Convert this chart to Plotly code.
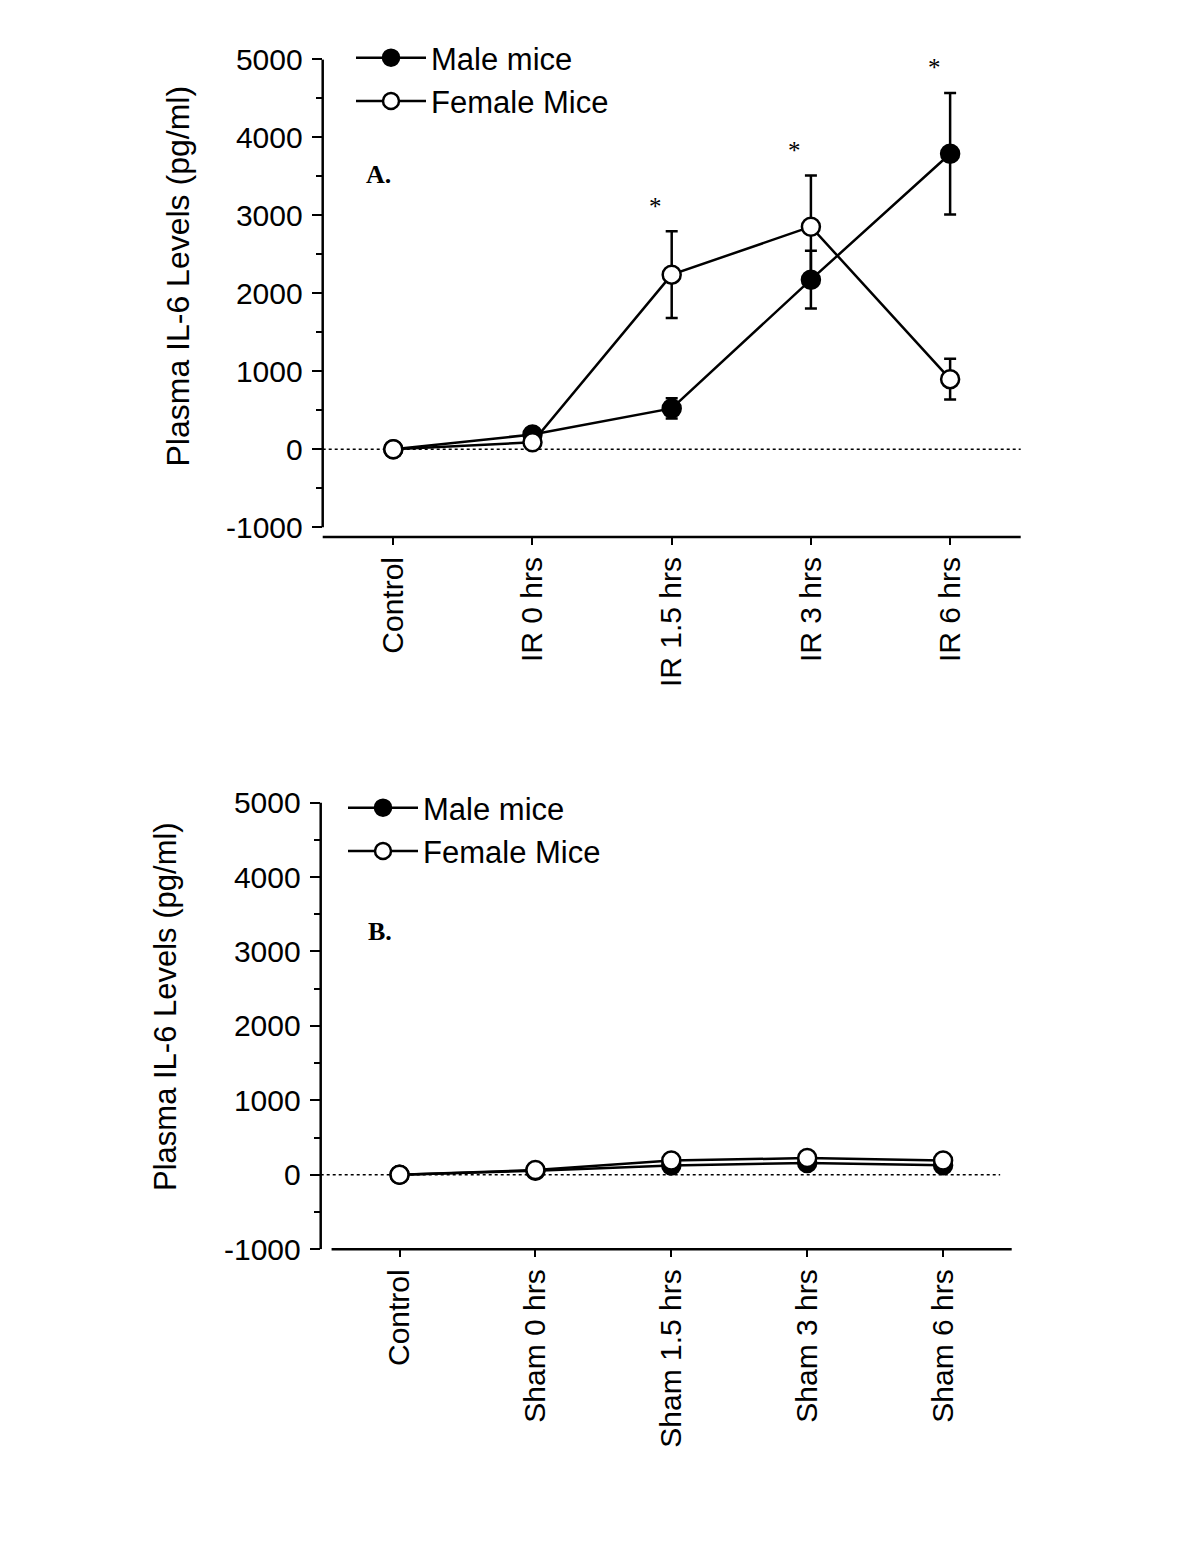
import plotly.graph_objects as go

# ---------------- data ----------------
cats_a = ["Control", "IR 0 hrs", "IR 1.5 hrs", "IR 3 hrs", "IR 6 hrs"]
cats_b = ["Control", "Sham 0 hrs", "Sham 1.5 hrs", "Sham 3 hrs", "Sham 6 hrs"]

male_a = [0, 190, 525, 2175, 3790]
male_a_err = [0, 0, 130, 370, 780]
female_a = [0, 90, 2240, 2855, 900]
female_a_err = [0, 0, 555, 655, 260]

male_b = [0, 55, 125, 160, 130]
female_b = [0, 65, 193, 225, 193]

sig_a = ["IR 1.5 hrs", "IR 3 hrs", "IR 6 hrs"]   # categories marked with *
yticks = [-1000, 0, 1000, 2000, 3000, 4000, 5000]
yticktext = ["-1000", "0", "1000", "2000", "3000", "4000", "5000"]
ytitle = "Plasma IL-6 Levels (pg/ml)"

# ---------------- geometry (pixels of the 1200x1553 page) ----------------
W, H = 1200, 1553
def px(x): return x / W
def py(y): return 1 - y / H

SANS = "Liberation Sans, Arial, sans-serif"
SERIF = "Liberation Serif, Times New Roman, serif"
BLACK = "black"
LW = 2.5

xr_a = [-0.507, 4.507]
xr_b = [-0.58, 4.505]

fig = go.Figure()

def add_series(x, y, err, name, filled, xa, ya, leg):
    kw = {}
    if err is not None:
        kw["error_y"] = dict(type="data", array=err, color=BLACK, thickness=LW, width=6)
    fig.add_trace(go.Scatter(
        x=x, y=y, name=name, mode="lines+markers",
        line=dict(color=BLACK, width=LW),
        marker=dict(symbol="circle", size=18,
                    color=BLACK if filled else "white",
                    line=dict(color=BLACK, width=LW)),
        xaxis=xa, yaxis=ya, legend=leg, showlegend=True,
        cliponaxis=False, **kw))

add_series(cats_a, male_a, male_a_err, "Male mice", True, "x", "y", "legend")
add_series(cats_a, female_a, female_a_err, "Female Mice", False, "x", "y", "legend")
add_series(cats_b, male_b, None, "Male mice", True, "x2", "y2", "legend2")
add_series(cats_b, female_b, None, "Female Mice", False, "x2", "y2", "legend2")

tickfont = dict(family=SANS, size=30, color=BLACK)

def yax(domain, rng, anchor):
    return dict(domain=domain, range=rng, anchor=anchor, automargin=False,
                tickmode="array", tickvals=yticks, ticktext=yticktext,
                ticks="outside", ticklen=10, tickwidth=2, tickcolor=BLACK,
                minor=dict(ticks="outside", ticklen=6, tickwidth=2, tickcolor=BLACK,
                           tick0=-1000, dtick=500),
                showline=False, showgrid=False, zeroline=False,
                tickfont=tickfont, ticklabelstandoff=3, fixedrange=True)

def xax(domain, rng, anchor):
    return dict(domain=domain, range=rng, anchor=anchor, type="category",
                automargin=False,
                tickangle=-90, ticks="outside", ticklen=7, tickwidth=2, tickcolor=BLACK,
                showline=False, showgrid=False, zeroline=False,
                tickfont=tickfont, ticklabelstandoff=0, fixedrange=True)

legfont = dict(family=SANS, size=31, color=BLACK)

fig.update_layout(
    width=W, height=H, autosize=False,
    margin=dict(l=0, r=0, t=0, b=0, pad=0),
    paper_bgcolor="white", plot_bgcolor="white",
    xaxis=xax([px(322.7), px(1020.7)], xr_a, "y"),
    yaxis=yax([py(537), py(59.3)], [-1124, 5001], "x"),
    xaxis2=xax([px(320.7), px(1011.7)], xr_b, "y2"),
    yaxis2=yax([py(1249.3), py(802.5)], [-1000, 5001], "x2"),
    legend=dict(x=px(351), y=py(31), xanchor="left", yanchor="top",
                font=legfont, bgcolor="rgba(0,0,0,0)", tracegroupgap=0,
                itemwidth=70),
    legend2=dict(x=px(343), y=py(781), xanchor="left", yanchor="top",
                 font=legfont, bgcolor="rgba(0,0,0,0)", tracegroupgap=0,
                 itemwidth=70),
    showlegend=True,
)

def frac(v, rng):
    return (v - rng[0]) / (rng[1] - rng[0])

shapes = [
    # panel A axis lines
    dict(type="line", xref="x domain", yref="y", x0=0, x1=0, y0=-1000, y1=5000,
         line=dict(color=BLACK, width=LW)),
    dict(type="line", xref="x domain", yref="y domain", x0=0, x1=1, y0=0, y1=0,
         line=dict(color=BLACK, width=LW)),
    dict(type="line", xref="x domain", yref="y", x0=0, x1=1, y0=0, y1=0,
         line=dict(color=BLACK, width=1.5, dash="dot"), layer="below"),
    # panel B axis lines
    dict(type="line", xref="x2 domain", yref="y2", x0=0, x1=0, y0=-1000, y1=5000,
         line=dict(color=BLACK, width=LW)),
    dict(type="line", xref="x2 domain", yref="y2 domain",
         x0=frac(-0.5, xr_b), x1=1, y0=0, y1=0, line=dict(color=BLACK, width=LW)),
    dict(type="line", xref="x2 domain", yref="y2", x0=0, x1=frac(4.42, xr_b), y0=0, y1=0,
         line=dict(color=BLACK, width=1.5, dash="dot"), layer="below"),
]

annotations = [
    dict(text=ytitle, xref="paper", yref="paper", x=px(178), y=py(276.5),
         xanchor="center", yanchor="middle",
         textangle=-90, showarrow=False, font=dict(family=SANS, size=32, color=BLACK)),
    dict(text=ytitle, xref="paper", yref="paper", x=px(165), y=py(1007),
         xanchor="center", yanchor="middle",
         textangle=-90, showarrow=False, font=dict(family=SANS, size=31, color=BLACK)),
    dict(text="<b>A.</b>", xref="paper", yref="paper", x=px(364), y=py(175),
         xanchor="left", yanchor="middle", showarrow=False,
         font=dict(family=SERIF, size=26, color=BLACK)),
    dict(text="<b>B.</b>", xref="paper", yref="paper", x=px(366), y=py(932),
         xanchor="left", yanchor="middle", showarrow=False,
         font=dict(family=SERIF, size=26, color=BLACK)),
]

for c in sig_a:
    i = cats_a.index(c)
    top = max(male_a[i] + male_a_err[i], female_a[i] + female_a_err[i])
    annotations.append(dict(text="*", xref="x", yref="y", x=c, y=top, yshift=25,
                            xshift=-16, showarrow=False, yanchor="middle",
                            xanchor="center",
                            font=dict(family=SERIF, size=25, color=BLACK)))

fig.update_layout(shapes=shapes, annotations=annotations)

fig.write_html("out.html",
               config={"displayModeBar": False, "staticPlot": True},
               post_script="document.body.style.margin='0px';document.body.style.padding='0px';")
